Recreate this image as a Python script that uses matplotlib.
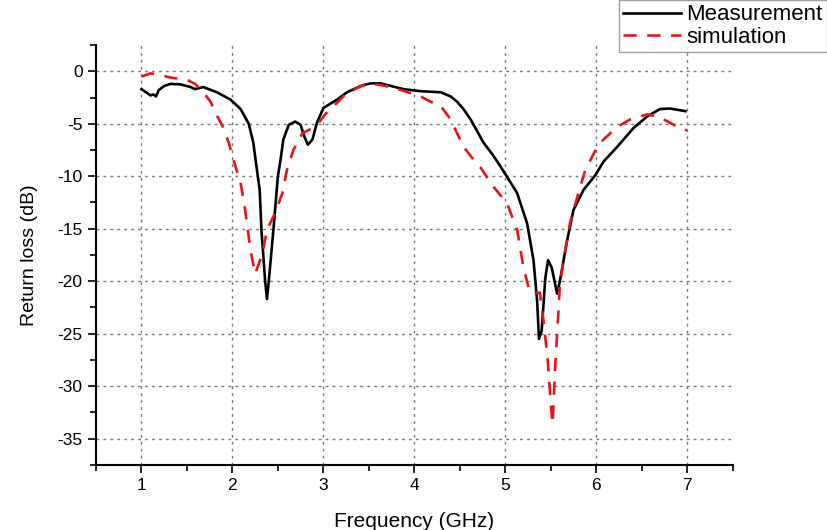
import numpy as np
import matplotlib
matplotlib.use('Agg')
import matplotlib.pyplot as plt
from matplotlib.ticker import MultipleLocator

plt.rcParams['font.family'] = ['Liberation Sans', 'DejaVu Sans']
plt.rcParams['axes.unicode_minus'] = False

# measured return loss (GHz, dB)
meas_f = [1.00, 1.05, 1.10, 1.13, 1.16, 1.19, 1.25, 1.32, 1.43, 1.54, 1.59, 1.68, 1.83,
          1.98, 2.09, 2.18, 2.23, 2.27, 2.30, 2.32, 2.36, 2.38, 2.40, 2.45, 2.50, 2.53,
          2.56, 2.62, 2.69, 2.75, 2.79, 2.83, 2.88, 2.93, 3.00, 3.15, 3.26, 3.41, 3.52,
          3.63, 3.88, 4.07, 4.29, 4.40, 4.47, 4.54, 4.62, 4.69, 4.76, 4.84, 4.92, 5.00,
          5.13, 5.24, 5.31, 5.35, 5.37, 5.40, 5.44, 5.47, 5.51, 5.57, 5.60, 5.68, 5.75,
          5.86, 5.99, 6.08, 6.23, 6.41, 6.56, 6.70, 6.81, 6.98]
meas_db = [-1.7, -2.0, -2.3, -2.2, -2.4, -1.8, -1.4, -1.2, -1.25, -1.5, -1.7, -1.5, -2.0,
           -2.7, -3.6, -5.0, -6.8, -9.4, -11.3, -15.2, -20.0, -21.7, -20.0, -15.2, -10.0, -8.4,
           -6.5, -5.1, -4.8, -5.1, -6.2, -7.0, -6.5, -4.9, -3.5, -2.7, -2.0, -1.4, -1.15,
           -1.15, -1.7, -1.9, -2.0, -2.4, -2.9, -3.6, -4.6, -5.7, -6.8, -7.7, -8.7, -9.8,
           -11.6, -14.5, -18.0, -21.9, -25.5, -24.7, -19.7, -18.0, -18.7, -21.2, -20.0, -16.1, -13.2,
           -11.3, -9.9, -8.6, -7.2, -5.4, -4.3, -3.6, -3.55, -3.8]

# simulated return loss (GHz, dB)
sim_f = [1.00, 1.10, 1.20, 1.32, 1.50, 1.59, 1.68, 1.76, 1.81, 1.89, 1.96, 2.02, 2.09,
         2.14, 2.20, 2.25, 2.33, 2.38, 2.47, 2.55, 2.60, 2.67, 2.77, 2.84, 2.95, 3.02,
         3.15, 3.24, 3.37, 3.48, 3.52, 3.74, 3.93, 4.07, 4.18, 4.29, 4.40, 4.47, 4.54,
         4.65, 4.73, 4.87, 5.02, 5.13, 5.20, 5.27, 5.38, 5.43, 5.47, 5.50, 5.52, 5.53,
         5.55, 5.58, 5.60, 5.66, 5.71, 5.79, 5.88, 6.01, 6.08, 6.23, 6.37, 6.56, 6.70,
         6.81, 6.96, 7.00]
sim_db = [-0.5, -0.2, -0.35, -0.6, -0.8, -1.2, -2.0, -2.9, -3.9, -5.2, -6.8, -8.7, -10.6,
          -13.2, -17.1, -19.3, -17.4, -15.1, -13.5, -11.6, -9.4, -7.5, -5.9, -5.6, -4.9, -4.1,
          -3.0, -2.2, -1.6, -1.15, -1.15, -1.5, -2.0, -2.4, -2.9, -3.3, -4.6, -5.9, -7.2,
          -8.4, -9.2, -11.0, -12.6, -15.1, -18.7, -21.1, -21.1, -24.5, -27.9, -31.7, -33.6, -31.7,
          -27.9, -23.5, -20.3, -17.0, -14.5, -12.0, -9.4, -7.2, -6.5, -5.3, -4.6, -4.1, -4.4,
          -4.9, -5.6, -5.6]

fig = plt.figure(figsize=(8.27, 5.30), dpi=100)
ax = fig.add_axes([0.116, 0.123, 0.770, 0.792])

l1, = ax.plot(meas_f, meas_db, color='black', lw=1.9, label='Measurement')
l2, = ax.plot(sim_f, sim_db, color='#e8141c', lw=1.9, dashes=(5, 4), label='simulation')

ax.set_xlim(0.5, 7.5)
ax.set_ylim(-37.5, 2.5)
ax.xaxis.set_major_locator(MultipleLocator(1))
ax.xaxis.set_minor_locator(MultipleLocator(0.5))
ax.yaxis.set_major_locator(MultipleLocator(5))
ax.yaxis.set_minor_locator(MultipleLocator(2.5))
ax.set_xticks(np.arange(1, 8))
ax.tick_params(which='major', direction='out', length=6, width=1.2, labelsize=12.5, colors='black')
ax.tick_params(which='minor', direction='out', length=4, width=1.2)
ax.grid(True, which='major', linestyle=(0, (2, 3)), color='#777777', lw=1)
for s in ['top', 'right']:
    ax.spines[s].set_visible(False)
for s in ['left', 'bottom']:
    ax.spines[s].set_linewidth(1.5)

ax.set_xlabel('Frequency (GHz)', fontsize=15, labelpad=14)
ax.set_ylabel('Return loss (dB)', fontsize=14, labelpad=14)

leg = fig.legend(handles=[l1, l2], loc='upper right', bbox_to_anchor=(1.0, 1.0),
                 fontsize=16, frameon=True, fancybox=False, handlelength=2.6,
                 handletextpad=0.25, borderpad=0.2, labelspacing=0.05, borderaxespad=0)
leg.get_frame().set_edgecolor('#888888')
leg.get_frame().set_linewidth(1.0)

fig.savefig('out.png', dpi=100)
